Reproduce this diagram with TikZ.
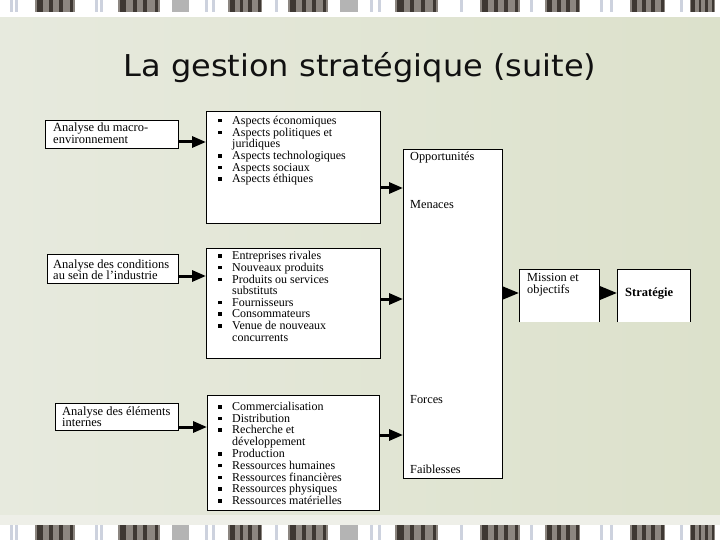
\documentclass[tikz,border=0pt]{standalone}
\usepackage{fontspec}
\usepackage{graphicx}
\setmainfont{Liberation Serif}
\newfontfamily\titlefont{DejaVu Sans}
\usetikzlibrary{arrows.meta}
\definecolor{bgL}{HTML}{E7EADE}
\definecolor{bgR}{HTML}{DCE1CB}
\definecolor{bgB}{HTML}{EEEFE8}
\definecolor{stripeDark}{HTML}{3E3833}
\definecolor{stripeMid}{HTML}{8C8680}
\definecolor{stripeGray}{HTML}{B4B4B4}
\definecolor{stripeLight}{HTML}{CDD2DE}
\definecolor{titleInk}{HTML}{111111}
\newcommand\sqb{\makebox[14pt][l]{\rule[2pt]{3.5pt}{3.5pt}}}
\newcommand\contl{\hspace*{14pt}}
\begin{document}
\begin{tikzpicture}[x=1pt,y=-1pt,
  box/.style={draw=black, line width=0.9pt, fill=white, inner sep=0pt, anchor=north west},
  openbox/.style={fill=white, inner sep=0pt, anchor=north west},
  arr/.style={line width=3pt, -{Triangle[length=14pt,width=11pt]}},
  arrs/.style={line width=3pt, -{Triangle[length=17pt,width=13pt]}},
  txt/.style={inner sep=0pt, anchor=base west, font=\fontsize{12.3}{12}\selectfont},
  lst/.style={inner sep=0pt, anchor=base west},
]
\useasboundingbox (0,0) rectangle (720,540);
% background
\shade[left color=bgL, right color=bgR] (0,17) rectangle (720,525);
\fill[white] (0,0) rectangle (720,17);
\fill[bgB] (0,515) rectangle (720,525);
\fill[white] (0,525) rectangle (720,540);
% stripes
\foreach \yy/\hh in {0/12, 525/15}{
  \foreach \a/\b in {35/75,118/160,228/262,288/328,395/438,480/520,545/580,630/665,690/715}{
    \fill[stripeMid] (\a,\yy) rectangle (\b,\yy+\hh);
    \fill[stripeDark] ({\a+0.05*(\b-\a)},\yy) rectangle ({\a+0.2*(\b-\a)},\yy+\hh);
    \fill[stripeDark] ({\a+0.35*(\b-\a)},\yy) rectangle ({\a+0.45*(\b-\a)},\yy+\hh);
    \fill[stripeDark] ({\a+0.6*(\b-\a)},\yy) rectangle ({\a+0.7*(\b-\a)},\yy+\hh);
    \fill[stripeDark] ({\a+0.88*(\b-\a)},\yy) rectangle ({\a+0.96*(\b-\a)},\yy+\hh);
  }
  \foreach \a/\b in {172/189,340/358}{
    \fill[stripeGray] (\a,\yy) rectangle (\b,\yy+\hh);
  }
  \foreach \a in {10,15,95,100,205,212,275,370,378,460,530,600,610,680}{
    \fill[stripeLight] (\a,\yy) rectangle (\a+3,\yy+\hh);
  }
}
% title
\node[font=\titlefont\fontsize{32}{32}\selectfont, text=titleInk, anchor=base, inner sep=0pt] (title) at (360,77) {\scalebox{1}[0.94]{La gestion stratégique (suite)}};

% left boxes
\node[box, minimum width=133pt, minimum height=28pt] (lb1) at (45,120) {};
\node[box, minimum width=131pt, minimum height=29pt] (lb2) at (47,254) {};
\node[box, minimum width=123pt, minimum height=27pt] (lb3) at (55,403) {};
\node[lst, font=\fontsize{12.5}{10.5}\selectfont] (lt1) at (53,132) {\begin{tabular}[t]{@{}l@{}}Analyse du macro-\\environnement\end{tabular}};
\node[lst, font=\fontsize{12.5}{10.5}\selectfont] (lt2) at (53,268) {\begin{tabular}[t]{@{}l@{}}Analyse des conditions\\au sein de l'industrie\end{tabular}};
\node[lst, font=\fontsize{12.5}{10.5}\selectfont] (lt3) at (62,415) {\begin{tabular}[t]{@{}l@{}}Analyse des éléments\\internes\end{tabular}};

% middle boxes
\node[box, minimum width=174pt, minimum height=112pt] (mb1) at (206,111) {};
\node[box, minimum width=174pt, minimum height=110pt] (mb2) at (206,248) {};
\node[box, minimum width=172pt, minimum height=115pt] (mb3) at (207,395) {};
\node[lst, font=\fontsize{12}{11.4}\selectfont] (ml1) at (218,124.5) {\begin{tabular}[t]{@{}l@{}}
\sqb Aspects économiques\\
\sqb Aspects politiques et\\
\contl juridiques\\
\sqb Aspects technologiques\\
\sqb Aspects sociaux\\
\sqb Aspects éthiques
\end{tabular}};
\node[lst, font=\fontsize{12}{11.55}\selectfont] (ml2) at (218,259.5) {\begin{tabular}[t]{@{}l@{}}
\sqb Entreprises rivales\\
\sqb Nouveaux produits\\
\sqb Produits ou services\\
\contl substituts\\
\sqb Fournisseurs\\
\sqb Consommateurs\\
\sqb Venue de nouveaux\\
\contl concurrents
\end{tabular}};
\node[lst, font=\fontsize{12}{11.4}\selectfont] (ml3) at (218,410.5) {\begin{tabular}[t]{@{}l@{}}
\sqb Commercialisation\\
\sqb Distribution\\
\sqb Recherche et\\
\contl développement\\
\sqb Production\\
\sqb Ressources humaines\\
\sqb Ressources financières\\
\sqb Ressources physiques\\
\sqb Ressources matérielles
\end{tabular}};

% big box
\node[box, minimum width=99pt, minimum height=329pt] (bb) at (403,149) {};
\node[txt] (opp) at (410,161) {Opportunités};
\node[txt] (men) at (410,208) {Menaces};
\node[txt] (for) at (410,403) {Forces};
\node[txt] (fai) at (410,473) {Faiblesses};

% mission and strategy (no bottom edge)
\node[openbox, minimum width=80pt, minimum height=53pt] (mo) at (519,269) {};
\draw[line width=0.9pt] (mo.south west) -- (mo.north west) -- (mo.north east) -- (mo.south east);
\node[lst, font=\fontsize{12.3}{12.5}\selectfont] (mot) at (527,281) {\begin{tabular}[t]{@{}l@{}}Mission et\\objectifs\end{tabular}};
\node[openbox, minimum width=73pt, minimum height=53pt] (st) at (617,269) {};
\draw[line width=0.9pt] (st.south west) -- (st.north west) -- (st.north east) -- (st.south east);
\node[txt, font=\bfseries\fontsize{12.5}{12}\selectfont] (stt) at (625,296) {Stratégie};

% arrows
\draw[arr] (lb1.east |- 0,142) -- (mb1.west |- 0,142);
\draw[arr] (lb2.east |- 0,276) -- (mb2.west |- 0,276);
\draw[arr] (lb3.east |- 0,427) -- (mb3.west |- 0,427);
\draw[arr] (mb1.east |- 0,188) -- (bb.west |- 0,188);
\draw[arr] (mb2.east |- 0,299) -- (bb.west |- 0,299);
\draw[arr] (mb3.east |- 0,435) -- (bb.west |- 0,435);
\draw[arrs] (bb.east |- 0,293) -- (mo.west |- 0,293);
\draw[arrs] (mo.east |- 0,293) -- (st.west |- 0,293);
\end{tikzpicture}
\end{document}
